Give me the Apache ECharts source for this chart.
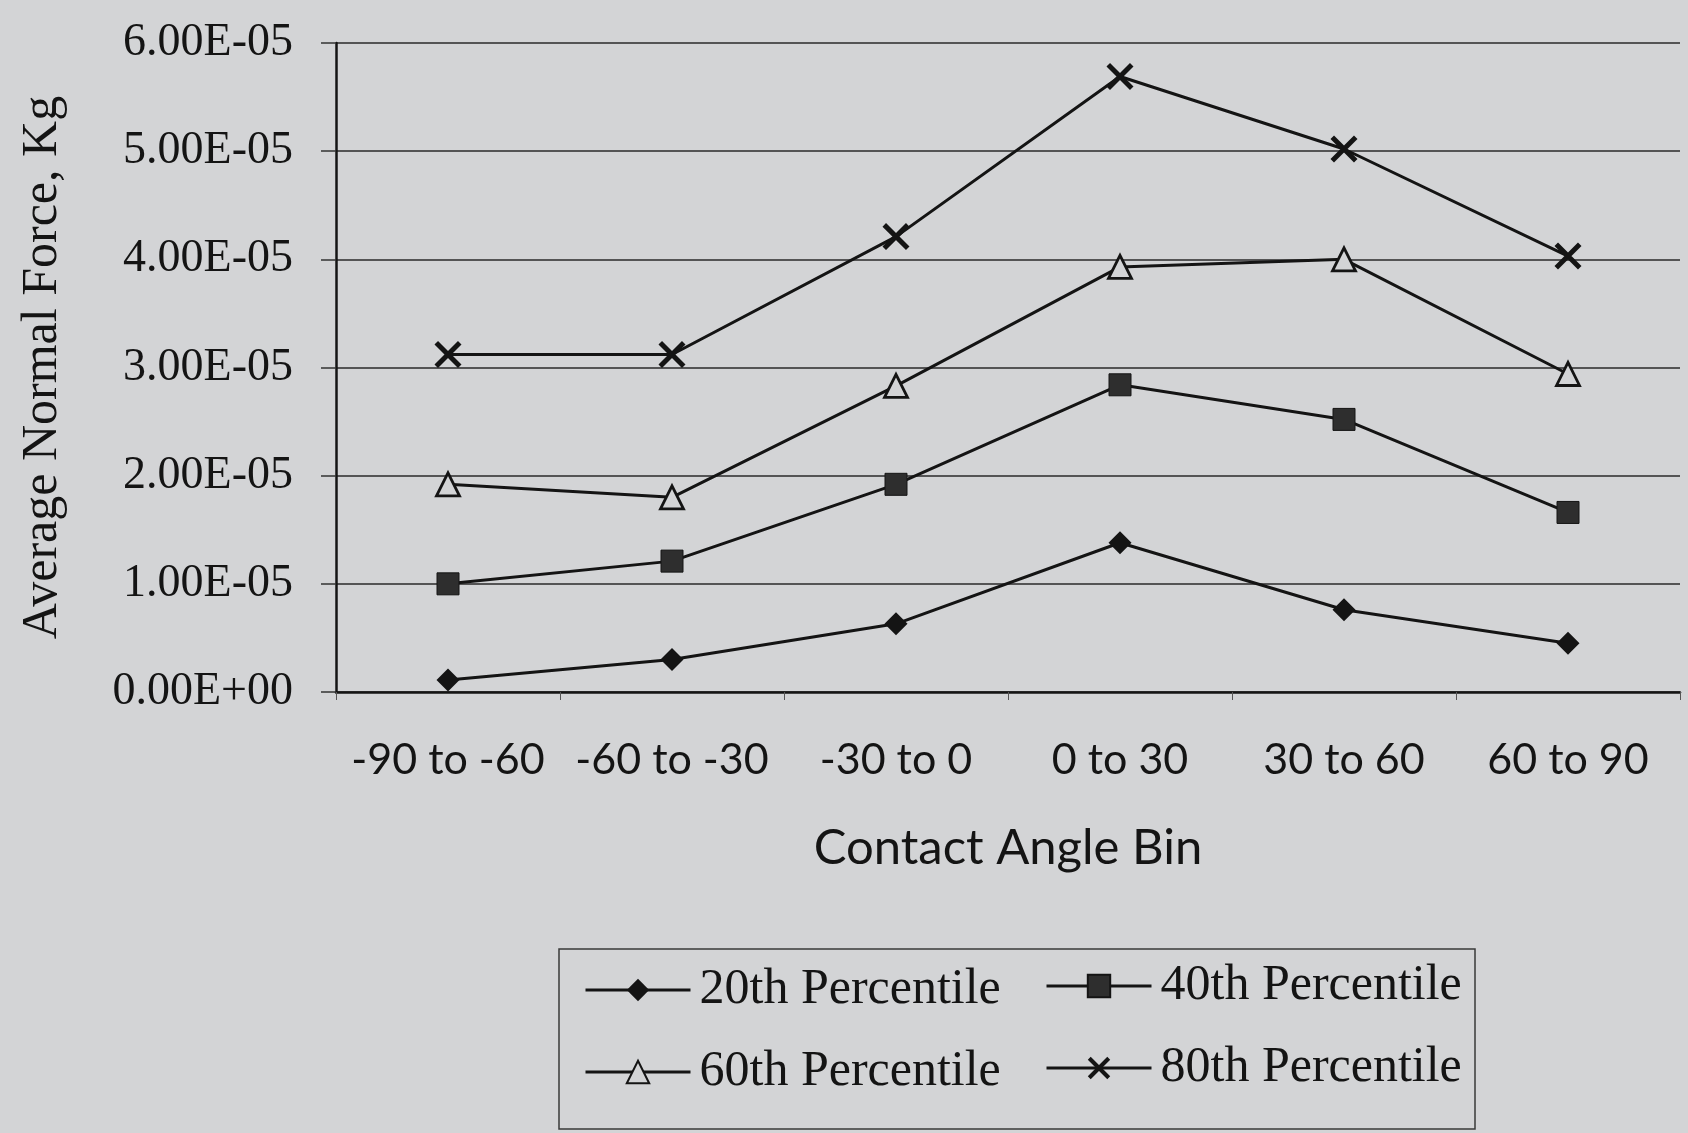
<!DOCTYPE html>
<html>
<head>
<meta charset="utf-8">
<script src="https://cdn.jsdelivr.net/npm/echarts@6/dist/echarts.min.js"></script>
<style>
html,body{margin:0;padding:0;background:#d3d4d6;}
#c{width:1688px;height:1133px;}
</style>
</head>
<body>
<div id="c"></div>
<script>
const categories = ['-90 to -60', '-60 to -30', '-30 to 0', '0 to 30', '30 to 60', '60 to 90'];
const p20 = [1.1e-6, 3.0e-6, 6.3e-6, 1.38e-5, 7.6e-6, 4.5e-6];
const p40 = [1.0e-5, 1.21e-5, 1.92e-5, 2.84e-5, 2.52e-5, 1.66e-5];
const p60 = [1.92e-5, 1.8e-5, 2.83e-5, 3.93e-5, 4.0e-5, 2.94e-5];
const p80 = [3.12e-5, 3.12e-5, 4.21e-5, 5.69e-5, 5.02e-5, 4.03e-5];
const yTicks = ['0.00E+00','1.00E-05','2.00E-05','3.00E-05','4.00E-05','5.00E-05','6.00E-05'];

const BG = '#d3d4d6';
const INK = '#141414';
const XPATH = 'path://M0,1.3 L1.3,0 L10,8.7 L8.7,10 Z M8.7,0 L10,1.3 L1.3,10 L0,8.7 Z';

const chart = echarts.init(document.getElementById('c'), null, {renderer:'canvas'});
function mk(name, data, symbol, size, itemStyle){
  return {
    name, type:'line', data, symbol, symbolSize:size, showSymbol:true,
    lineStyle:{color:INK, width:3},
    itemStyle:Object.assign({opacity:1}, itemStyle),
    emphasis:{disabled:true}, animation:false, z:3
  };
}
const legendText = {fontFamily:'Liberation Serif', fontSize:50, color:INK, padding:[0,0,0,4]};
chart.setOption({
  backgroundColor: BG,
  animation:false,
  grid:{left:336, right:8, top:43, bottom:441},
  xAxis:{
    type:'category', data:categories, boundaryGap:true,
    axisLine:{lineStyle:{color:INK, width:2.5}},
    axisTick:{show:true, length:8, lineStyle:{color:'#555', width:1}},
    axisLabel:{fontFamily:'Lato', fontSize:43, color:INK, margin:47, interval:0},
    name:'Contact Angle Bin', nameLocation:'middle', nameGap:132,
    nameTextStyle:{fontFamily:'Lato', fontSize:49, color:INK}
  },
  yAxis:{
    type:'value', min:0, max:6e-5, interval:1e-5,
    axisLine:{show:true, lineStyle:{color:INK, width:2.5}},
    axisTick:{show:true, length:15, lineStyle:{color:'#333', width:1.5}},
    splitLine:{show:true, lineStyle:{color:'#2a2a2a', width:1.5}},
    axisLabel:{fontFamily:'Liberation Serif', fontSize:46, color:INK, margin:43,
      formatter:(v)=>{const i=Math.round(v/1e-5); return yTicks[i];}},
    name:'Average Normal Force, Kg', nameLocation:'middle', nameGap:268, nameRotate:90,
    nameTextStyle:{fontFamily:'Liberation Serif', fontSize:50, color:INK}
  },
  legend:[
    {data:['20th Percentile','60th Percentile'], orient:'vertical', left:579, top:960,
     itemWidth:105, itemHeight:28, itemGap:32, textStyle:legendText, selectedMode:false,
     lineStyle:{width:3}},
    {data:['40th Percentile','80th Percentile'], orient:'vertical', left:1040, top:956,
     itemWidth:105, itemHeight:28, itemGap:32, textStyle:legendText, selectedMode:false,
     lineStyle:{width:3}}
  ],
  graphic:[{type:'rect', shape:{x:559, y:949, width:916, height:180},
    style:{fill:'none', stroke:'#3a3a3a', lineWidth:1.5}, silent:true}],
  series:[
    mk('20th Percentile', p20, 'diamond', 23, {color:INK}),
    mk('40th Percentile', p40, 'rect', 22, {color:'#2e2e2e', borderColor:INK, borderWidth:1}),
    mk('60th Percentile', p60, 'triangle', 23, {color:BG, borderColor:INK, borderWidth:2.8}),
    mk('80th Percentile', p80, XPATH, 27, {color:INK})
  ]
});
</script>
</body>
</html>
